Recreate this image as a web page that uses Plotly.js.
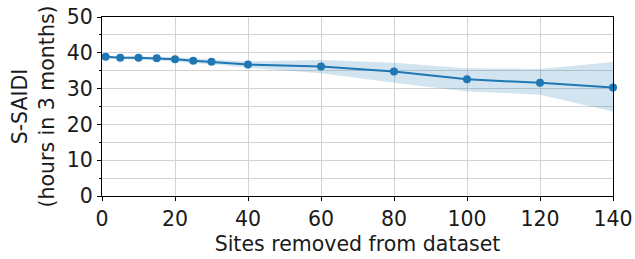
<!DOCTYPE html>
<html>
<head>
<meta charset="utf-8">
<script src="https://cdn.plot.ly/plotly-3.0.1.min.js"></script>
<style>html,body{margin:0;padding:0;background:#fff;}#chart{width:635px;height:259px;}</style>
</head>
<body>
<div id="chart"></div>
<script>
const sitesRemoved = [1, 5, 10, 15, 20, 25, 30, 40, 60, 80, 100, 120, 140];
const saidiMean =   [38.9, 38.6, 38.6, 38.5, 38.2, 37.8, 37.5, 36.7, 36.2, 34.8, 32.6, 31.6, 30.3];
const saidiLower =  [38.5, 38.3, 38.2, 38.0, 37.6, 37.1, 36.8, 35.8, 34.3, 31.6, 29.2, 28.3, 23.6];
const saidiUpper =  [39.3, 38.9, 39.0, 39.0, 38.8, 38.5, 38.2, 37.6, 38.0, 37.2, 35.7, 35.5, 37.4];
const xTicks = [0, 20, 40, 60, 80, 100, 120, 140];
const yTicks = [0, 10, 20, 30, 40, 50];

const blue = '#1f77b4';
const font = {family: 'DejaVu Sans', size: 20.5, color: '#1a1a1a'};

const traces = [
  {x: sitesRemoved, y: saidiLower, mode: 'lines', line: {width: 0, color: 'rgba(0,0,0,0)'}, hoverinfo: 'skip', showlegend: false},
  {x: sitesRemoved, y: saidiUpper, mode: 'lines', line: {width: 0, color: 'rgba(0,0,0,0)'}, fill: 'tonexty', fillcolor: 'rgba(31,119,180,0.2)', hoverinfo: 'skip', showlegend: false},
  {x: sitesRemoved, y: saidiMean, mode: 'lines+markers', line: {color: blue, width: 2}, marker: {color: blue, size: 8}, showlegend: false, cliponaxis: false}
];

const layout = {
  width: 635, height: 259,
  margin: {l: 102, r: 22, t: 17, b: 63},
  paper_bgcolor: '#fff', plot_bgcolor: '#fff',
  font: font,
  showlegend: false,
  xaxis: {
    range: [0, 140], tickvals: xTicks, ticktext: xTicks.map(String),
    showline: true, mirror: true, linecolor: '#000', linewidth: 1,
    ticks: 'outside', ticklen: 4, tickcolor: '#000',
    showgrid: true, gridcolor: '#d3d3d3', gridwidth: 1, zeroline: false,
    tickfont: font,
    title: {text: 'Sites removed from dataset', font: font, standoff: 7}
  },
  yaxis: {
    range: [0, 50], tickvals: yTicks, ticktext: yTicks.map(String),
    showline: true, mirror: true, linecolor: '#000', linewidth: 1,
    ticks: 'outside', ticklen: 4, tickcolor: '#000',
    showgrid: true, gridcolor: '#d3d3d3', gridwidth: 1, zeroline: false,
    minor: {dtick: 5, ticks: 'outside', ticklen: 2, tickcolor: '#000', showgrid: true, gridcolor: '#d3d3d3', gridwidth: 1},
    tickfont: font,
    title: {text: 'S-SAIDI<br>(hours in 3 months)', font: font, standoff: 6}
  }
};

Plotly.newPlot('chart', traces, layout, {staticPlot: true, displayModeBar: false});
</script>
</body>
</html>
